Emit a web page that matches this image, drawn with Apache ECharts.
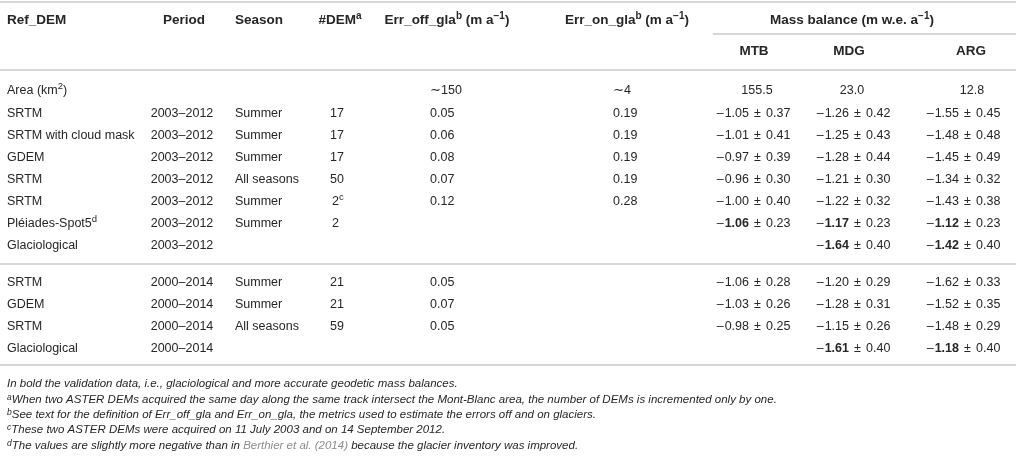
<!DOCTYPE html>
<html lang="en">
<head>
    <meta charset="UTF-8">
    <title>Mass balance table</title>
    <script src="https://cdn.jsdelivr.net/npm/echarts@6/dist/echarts.min.js"></script>
    <style>
        html, body { margin: 0; padding: 0; background: #fff; }
        #table { width: 1016px; height: 465px; }
    </style>
</head>
<body>
    <div id="table"></div>
    <script type="text/javascript">
        // table values, one array per column
        var refDem = ['SRTM', 'SRTM with cloud mask', 'GDEM', 'SRTM', 'SRTM', 'Pléiades-Spot5', 'Glaciological',
                      'SRTM', 'GDEM', 'SRTM', 'Glaciological'];
        var refSup = ['', '', '', '', '', 'd', '', '', '', '', ''];
        var period = ['2003–2012', '2003–2012', '2003–2012', '2003–2012', '2003–2012', '2003–2012', '2003–2012',
                      '2000–2014', '2000–2014', '2000–2014', '2000–2014'];
        var season = ['Summer', 'Summer', 'Summer', 'All seasons', 'Summer', 'Summer', '',
                      'Summer', 'Summer', 'All seasons', ''];
        var nDem = [17, 17, 17, 50, 2, 2, null, 21, 21, 59, null];
        var nDemSup = ['', '', '', '', 'c', '', '', '', '', '', ''];
        var errOff = [0.05, 0.06, 0.08, 0.07, 0.12, null, null, 0.05, 0.07, 0.05, null];
        var errOn = [0.19, 0.19, 0.19, 0.19, 0.28, null, null, null, null, null, null];
        var mtbMean = [-1.05, -1.01, -0.97, -0.96, -1.00, -1.06, null, -1.06, -1.03, -0.98, null];
        var mtbErr = [0.37, 0.41, 0.39, 0.30, 0.40, 0.23, null, 0.28, 0.26, 0.25, null];
        var mdgMean = [-1.26, -1.25, -1.28, -1.21, -1.22, -1.17, -1.64, -1.20, -1.28, -1.15, -1.61];
        var mdgErr = [0.42, 0.43, 0.44, 0.30, 0.32, 0.23, 0.40, 0.29, 0.31, 0.26, 0.40];
        var argMean = [-1.55, -1.48, -1.45, -1.34, -1.43, -1.12, -1.42, -1.62, -1.52, -1.48, -1.18];
        var argErr = [0.45, 0.48, 0.49, 0.32, 0.38, 0.23, 0.40, 0.33, 0.35, 0.29, 0.40];
        var boldRows = [5, 6, 10];   // validation data shown in bold
        var areaOff = '∼150', areaOn = '∼4';
        var glacierArea = [155.5, 23.0, 12.8];   // MTB, MDG, ARG
        var glaciers = ['MTB', 'MDG', 'ARG'];
        var footnotes = [
            ['', 'In bold the validation data, i.e., glaciological and more accurate geodetic mass balances.'],
            ['a', 'When two ASTER DEMs acquired the same day along the same track intersect the Mont-Blanc area, the number of DEMs is incremented only by one.'],
            ['b', 'See text for the definition of Err_off_gla and Err_on_gla, the metrics used to estimate the errors off and on glaciers.'],
            ['c', 'These two ASTER DEMs were acquired on 11 July 2003 and on 14 September 2012.'],
            ['d', 'The values are slightly more negative than in {link|Berthier et al. (2014)} because the glacier inventory was improved.']
        ];

        // layout (pixel positions on the axes)
        var colX = [7, 182, 235, 330, 430, 613, 753, 853, 963];
        var headX = [7, 184, 235, 340, 447, 627, 852, 754, 849, 971];
        var headY = [20, 51];
        var areaY = 91;
        var rowY = [114, 136, 158, 180, 202, 224, 246, 283, 305, 327, 349];
        var noteY = [384, 400, 415, 430, 446];
        var ruleY = [2, 70, 264, 365];

        var dash = function (v) { return v.toFixed(2).replace('-', ''); };
        var cells = [];
        function cell(x, y, text, align, font) {
            cells.push({ value: [x, y], text: text, align: align || 'left', font: font || 'n' });
        }
        // headers
        cell(headX[0], headY[0], 'Ref_DEM', 'left', 'h');
        cell(headX[1], headY[0], 'Period', 'center', 'h');
        cell(headX[2], headY[0], 'Season', 'left', 'h');
        cell(headX[3], headY[0], '#DEM{hs|a}', 'center', 'h');
        cell(headX[4], headY[0], 'Err_off_gla{hs|b} (m a{hs|−1})', 'center', 'h');
        cell(headX[5], headY[0], 'Err_on_gla{hs|b} (m a{hs|−1})', 'center', 'h');
        cell(headX[6], headY[0], 'Mass balance (m w.e. a{hs|−1})', 'center', 'h');
        glaciers.forEach(function (g, k) { cell(headX[7 + k], headY[1], g, 'center', 'h'); });
        // area row
        cell(colX[0], areaY, 'Area (km{s|2})');
        cell(colX[4], areaY, areaOff);
        cell(colX[5], areaY, areaOn);
        cell(757, areaY, glacierArea[0].toFixed(1), 'center');
        cell(852, areaY, glacierArea[1].toFixed(1), 'center');
        cell(972, areaY, glacierArea[2].toFixed(1), 'center');
        // data rows
        for (var i = 0; i < refDem.length; i++) {
            var y = rowY[i];
            var bold = boldRows.indexOf(i) >= 0;
            cell(colX[0], y, refDem[i] + (refSup[i] ? '{s|' + refSup[i] + '}' : ''));
            cell(colX[1], y, period[i], 'center');
            if (season[i]) cell(colX[2], y, season[i]);
            if (nDem[i] != null) cell(colX[3] + (nDem[i] < 10 ? 2 : 0), y, nDem[i] + (nDemSup[i] ? '{s|' + nDemSup[i] + '}' : ''));
            if (errOff[i] != null) cell(colX[4], y, errOff[i].toFixed(2));
            if (errOn[i] != null) cell(colX[5], y, errOn[i].toFixed(2));
            [[mtbMean, mtbErr], [mdgMean, mdgErr], [argMean, argErr]].forEach(function (p, k) {
                if (p[0][i] == null) return;
                var m = dash(p[0][i]);
                var t = '{mi|–}' + (bold ? '{b|' + m + '}' : m) + '{pm|±}' + p[1][i].toFixed(2);
                cell(colX[6 + k], y, t, 'center');
            });
        }
        // footnotes
        footnotes.forEach(function (f, k) {
            cell(colX[0], noteY[k], (f[0] ? '{is|' + f[0] + '}' : '') + f[1], 'left', 'f');
        });

        var rules = ruleY.map(function (y) { return [0, y, 1016]; });
        rules.push([713, 34, 1016]);   // rule under "Mass balance"

        var ink = '#262626';
        var richN = {
            s: { fontSize: 9.5, fill: ink, padding: [0, 0, 10, 0] },
            b: { fontWeight: 'bold', fontSize: 12.5, fill: ink },
            mi: { fontSize: 12.5, fill: ink, width: 9 },
            pm: { fontSize: 12.5, fill: ink, width: 17, align: 'center' }
        };
        var richH = {
            hs: { fontSize: 10, fontWeight: 'bold', fill: ink, padding: [0, 0, 8, 0] }
        };
        var richF = {
            is: { fontSize: 8.5, fontStyle: 'italic', fill: ink, padding: [0, 0, 5, 0] },
            link: { fontSize: 11.5, fontStyle: 'italic', fill: '#8c8c8c' }
        };

        var chart = echarts.init(document.getElementById('table'), null, { renderer: 'canvas' });
        var option = {
            animation: false,
            grid: { left: 0, right: 0, top: 0, bottom: 0 },
            xAxis: { type: 'value', min: 0, max: 1016, show: false },
            yAxis: { type: 'value', min: 0, max: 465, inverse: true, show: false },
            series: [
                {
                    type: 'custom',
                    data: rules,
                    renderItem: function (params, api) {
                        var a = api.coord([api.value(0), api.value(1)]);
                        var b = api.coord([api.value(2), api.value(1)]);
                        return {
                            type: 'line',
                            shape: { x1: a[0], y1: a[1], x2: b[0], y2: b[1] },
                            style: { stroke: '#c8c8c8', lineWidth: 1.6 }
                        };
                    }
                },
                {
                    type: 'custom',
                    data: cells,
                    renderItem: function (params, api) {
                        var c = cells[params.dataIndex];
                        var p = api.coord([api.value(0), api.value(1)]);
                        var isH = c.font === 'h', isF = c.font === 'f';
                        return {
                            type: 'text',
                            x: p[0],
                            y: p[1],
                            style: {
                                text: c.text,
                                fill: ink,
                                font: (isF ? 'italic ' : '') + (isH ? 'bold ' : '') +
                                      (isF ? '11.5px' : (isH ? '13.5px' : '12.5px')) +
                                      ' "Liberation Sans", Arial, sans-serif',
                                align: c.align,
                                verticalAlign: 'middle',
                                rich: isH ? richH : (isF ? richF : richN)
                            }
                        };
                    }
                }
            ]
        };
        chart.setOption(option);
    </script>
</body>
</html>
